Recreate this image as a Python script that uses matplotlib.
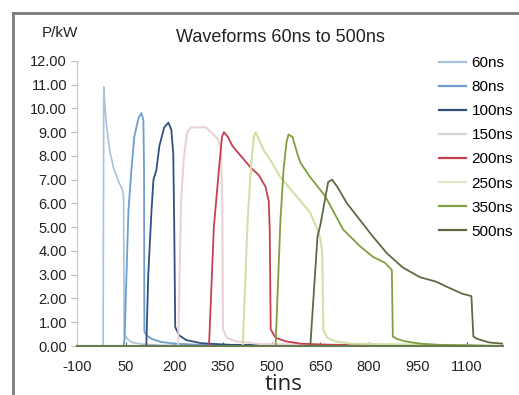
import matplotlib

matplotlib.use("Agg")

import matplotlib.pyplot as plt
from matplotlib.lines import Line2D

plt.rcParams["font.family"] = ["Liberation Sans", "DejaVu Sans"]
plt.rcParams["axes.unicode_minus"] = False

# time axis (ns) and power (kW)
t_60 = [-100, -19, -17, -14, -8, 1, 13, 29, 40, 44, 46, 55, 70, 100, 160, 1210]
p_60 = [0, 0, 10.9, 10.2, 9.2, 8.25, 7.5, 6.9, 6.6, 6.3, 0.5, 0.3, 0.15, 0.08, 0.03, 0]

t_80 = [-100, 44, 47, 59, 68, 77, 90, 99, 105, 107, 108, 115, 130, 160, 200, 283, 1210]
p_80 = [0, 0, 0.3, 5.7, 7.4, 8.8, 9.6, 9.8, 9.5, 7.4, 0.6, 0.45, 0.3, 0.17, 0.1, 0.05, 0]

t_100 = [-100, 114, 120, 130, 136, 145, 154, 169, 182, 191, 197, 200, 203, 215, 237, 283, 374, 1210]
p_100 = [0, 0, 3.0, 5.7, 7.0, 7.4, 8.4, 9.2, 9.4, 9.1, 8.1, 5.0, 0.8, 0.45, 0.25, 0.12, 0.05, 0]

t_150 = [-100, 212, 221, 230, 240, 252, 298, 313, 335, 344, 348, 350, 362, 390, 466, 1210]
p_150 = [0, 0, 6.1, 8.0, 9.0, 9.2, 9.2, 9.0, 8.7, 8.25, 6.0, 0.7, 0.35, 0.2, 0.08, 0]

t_200 = [-100, 307, 322, 338, 347, 353, 365, 380, 405, 436, 460, 481, 491, 494, 497, 512, 543, 589, 681, 1210]
p_200 = [0, 0, 5.0, 7.5, 8.8, 9.0, 8.8, 8.4, 8.0, 7.5, 7.2, 6.7, 6.1, 4.9, 0.7, 0.35, 0.2, 0.1, 0.05, 0]

t_250 = [-100, 411, 426, 436, 445, 451, 460, 475, 497, 527, 558, 589, 619, 641, 650, 656, 659, 671, 696, 742, 1210]
p_250 = [0, 0, 5.3, 7.5, 8.8, 9.0, 8.7, 8.25, 7.8, 7.1, 6.6, 6.1, 5.6, 4.9, 4.5, 3.9, 0.7, 0.35, 0.2, 0.1, 0]

t_350 = [-100, 512, 527, 537, 546, 552, 564, 579, 589, 619, 665, 720, 772, 812, 849, 870, 873, 886, 910, 956, 1017, 1210]
p_350 = [0, 0, 5.3, 7.5, 8.6, 8.9, 8.8, 8.1, 7.7, 7.1, 6.3, 4.9, 4.2, 3.75, 3.5, 3.2, 0.4, 0.3, 0.2, 0.1, 0.05, 0]

t_500 = [-100, 619, 641, 650, 674, 686, 702, 732, 772, 812, 855, 904, 956, 1008, 1038, 1087, 1115, 1121, 1133, 1170, 1210]
p_500 = [0, 0, 4.6, 5.1, 6.9, 7.0, 6.7, 6.0, 5.3, 4.6, 3.9, 3.3, 2.9, 2.7, 2.5, 2.2, 2.1, 0.4, 0.3, 0.15, 0.1]

labels = ["60ns", "80ns", "100ns", "150ns", "200ns", "250ns", "350ns", "500ns"]
x_ticks = [-100, 50, 200, 350, 500, 650, 800, 950, 1100]
y_ticks = list(range(0, 13))

series = [
    (t_60, p_60, "#a9c2da", 1.2),
    (t_80, p_80, "#6f9dd0", 1.3),
    (t_100, p_100, "#30507e", 1.3),
    (t_150, p_150, "#e9d3d6", 1.5),
    (t_200, p_200, "#c3404f", 1.3),
    (t_250, p_250, "#d3dfa8", 1.5),
    (t_350, p_350, "#7fa03e", 1.3),
    (t_500, p_500, "#5c6b46", 1.3),
]
legend_colors = ["#a9c2da", "#6f9dd0", "#30507e", "#d6d6d6", "#c3404f", "#e3e8c8", "#7fa03e", "#5c6b46"]

fig = plt.figure(figsize=(5.19, 3.95), dpi=100)
ax = fig.add_axes([0.148, 0.124, 0.821, 0.722])

for (t, p, color, lw), label in zip(series, labels):
    ax.plot(t, p, color=color, linewidth=lw, label=label)

ax.set_xlim(-100, 1212)
ax.set_ylim(0, 12)
ax.set_xticks(x_ticks)
ax.set_yticks(y_ticks)
ax.set_yticklabels([f"{v:.2f}" for v in y_ticks])
ax.tick_params(axis="y", direction="out", length=4, color="#bdbdbd", labelsize=10.5, labelcolor="#222222", pad=3)
ax.tick_params(axis="x", direction="in", length=3, color="#555555", labelsize=10.5, labelcolor="#222222", pad=10)
for side in ["top", "right"]:
    ax.spines[side].set_visible(False)
ax.spines["left"].set_color("#c8c8c8")
ax.spines["bottom"].set_color("#6a7a50")
ax.spines["bottom"].set_linewidth(1.5)

handles = [Line2D([0], [0], color=c, linewidth=1.6) for c in legend_colors]
fig.legend(handles, labels, loc="upper left", bbox_to_anchor=(0.845, 0.858), frameon=False,
           fontsize=11, handlelength=1.8, handletextpad=0.35, labelspacing=0.66, borderaxespad=0,
           borderpad=0)

fig.text(0.54, 0.905, "Waveforms 60ns to 500ns", ha="center", va="center", fontsize=13, color="#222222")
fig.text(0.116, 0.917, "P/kW", ha="center", va="center", fontsize=11, color="#222222")
fig.text(0.547, 0.012, "tins", ha="center", va="baseline", fontsize=16, color="#222222",
         family=["Open Sans", "DejaVu Sans"])

# outer frame of the original screenshot
fig.add_artist(Line2D([13 / 519, 13 / 519], [0, 1 - 13 / 395], color="#7a7a7a", linewidth=2))
fig.add_artist(Line2D([13 / 519, 1], [1 - 13 / 395, 1 - 13 / 395], color="#7a7a7a", linewidth=2))

fig.savefig("out.png", dpi=100)
